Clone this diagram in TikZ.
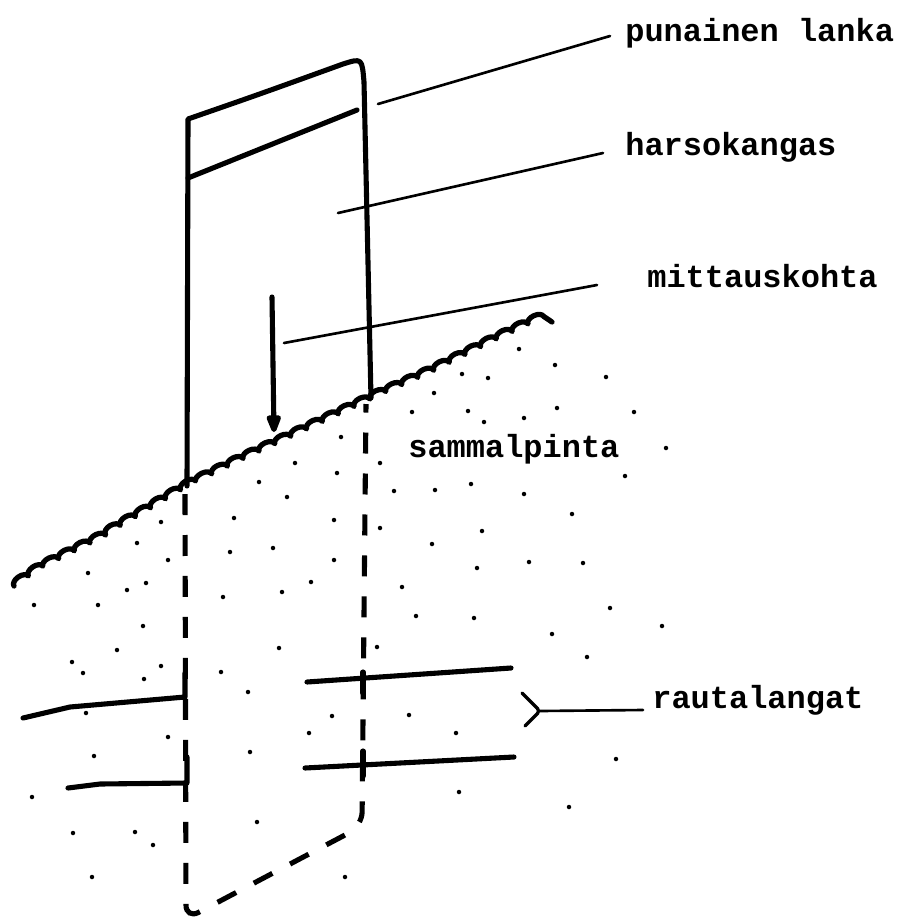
\documentclass[tikz,border=0pt]{standalone}
\usepackage{fontspec}
\setmonofont{Liberation Mono}
\usetikzlibrary{arrows.meta, decorations.pathmorphing}

\begin{document}
\begin{tikzpicture}[x=0.02cm, y=-0.02cm,
    ink/.style={line width=2.9pt, line cap=round, line join=round},
    leader/.style={line width=1.5pt, line cap=round},
    wire/.style={line width=2.9pt, line cap=round, line join=round},
    hidden/.style={line width=2.9pt, dash pattern=on 0.42cm off 0.4cm},
    lbl/.style={inner sep=0pt, anchor=base west, font=\ttfamily\bfseries\fontsize{18.2pt}{20pt}\selectfont}]
\useasboundingbox (0,0) rectangle (898,921);

% Sammalpinta
\draw[line width=3pt, line cap=round, line join=round, decorate, decoration={bumps, segment length=0.7cm, amplitude=0.1cm}]
    (14,586) -- (40,568) -- (90,543) -- (140,514) -- (187,486) -- (240,460) -- (300,432) -- (372,398)
    -- (430,372) -- (490,342) -- (530,323) -- (552,322);
% Harsokangas
\draw[ink] (187,486) -- (188,119) .. controls (260,94) .. (343,64) .. controls (362,58) .. (364,82) -- (371,398);
\draw[ink] (188,178) -- (357,110);
\draw[hidden, rounded corners=8pt] (185,494) -- (186,919) -- (362,826) -- (366,404);
% Mittauskohta
\coordinate (pin) at (272,297);
\coordinate (spot) at (274,432);
\draw[ink, -{Triangle[length=0.44cm, width=0.3cm, round]}] (pin) -- (spot);
% Rautalangat
\draw[wire] (23,718) -- (70,707) -- (185,697) -- (185,673);
\draw[wire] (68,788) -- (100,784) -- (187,783) -- (187,757);
\draw[wire] (307,682) -- (511,668);
\draw[wire] (305,768) -- (514,757);
\draw[wire] (363,672) -- (363,693);
\draw[wire] (363,751) -- (363,776);
% Maa
\foreach \x/\y in {519/349, 555/365, 606/377, 488/378, 462/374, 434/393, 412/412, 468/411, 484/422,
    524/418, 557/408, 634/412, 666/448, 625/476, 394/491, 435/490, 471/484, 524/494, 572/514,
    482/531, 432/544, 477/568, 529/562, 583/563, 402/587, 416/616, 474/618, 610/608, 552/634,
    587/657, 662/626, 341/437, 380/463, 295/463, 337/473, 259/482, 287/497, 234/518, 334/520,
    380/528, 161/522, 137/543, 230/552, 273/548, 168/560, 334/560, 88/573, 146/583, 127/590,
    311/582, 223/597, 282/592, 34/605, 98/605, 143/626, 117/650, 72/662, 83/673, 161/666,
    144/679, 221/672, 279/648, 377/647, 248/692, 86/713, 168/737, 332/716, 409/715, 309/733,
    456/733, 250/752, 94/756, 32/797, 459/792, 257/822, 73/833, 135/832, 153/845, 345/877,
    92/877, 616/759, 569/807}
    \fill (\x,\y) circle (0.045cm);

% Tekstit
\node[lbl] (lanka) at (625,41) {punainen lanka};
\node[lbl] (harso) at (625,155) {harsokangas};
\node[lbl] (mittaus) at (647,287) {mittauskohta};
\node[lbl] (sammal) at (408,457) {sammalpinta};
\node[lbl] (rauta) at (652,708) {rautalangat};

\coordinate (thread) at (378,104);
\coordinate (gauze) at (338,213);
\coordinate (point) at (284,343);
\coordinate (brace) at (540,711);
\draw[leader] (thread) -- ([xshift=-0.3cm, yshift=0.1cm]lanka.base west);
\draw[leader] (gauze) -- ([xshift=-0.44cm, yshift=0.04cm]harso.base west);
\draw[leader] (point) -- ([xshift=-1cm, yshift=0.04cm]mittaus.base west);
\draw[leader, line width=1.9pt, rounded corners=2pt] (522,693) -- (brace) -- (525,726);
\draw[leader] (brace) -- ([xshift=-0.18cm, yshift=-0.04cm]rauta.base west);
\end{tikzpicture}
\end{document}
